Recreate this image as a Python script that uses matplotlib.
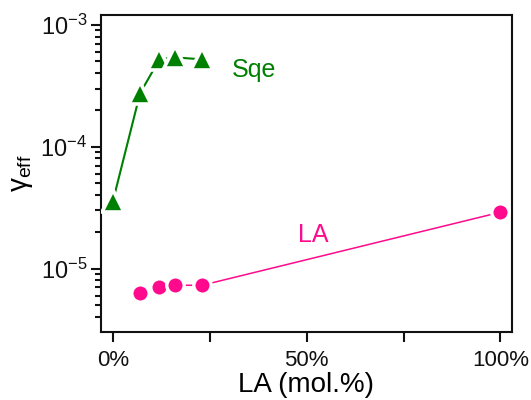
import matplotlib
matplotlib.use("Agg")
import matplotlib.pyplot as plt
from matplotlib.ticker import FixedLocator, NullFormatter

plt.rcParams['font.family'] = ['Liberation Sans', 'DejaVu Sans']
plt.rcParams['mathtext.fontset'] = 'custom'
plt.rcParams['mathtext.rm'] = 'Liberation Sans'
plt.rcParams['mathtext.it'] = 'Liberation Sans:italic'

sqe_x = [0, 7, 12, 16, 23]
sqe_y = [3.6e-5, 2.75e-4, 5.2e-4, 5.4e-4, 5.2e-4]
la_x = [7, 12, 16, 23, 100]
la_y = [6.3e-6, 7.0e-6, 7.3e-6, 7.3e-6, 2.9e-5]
xticks = [0, 50, 100]
xtick_labels = ['0%', '50%', '100%']
yticks = [1e-5, 1e-4, 1e-3]
ytick_labels = [r'10$^{-5}$', r'10$^{-4}$', r'10$^{-3}$']

green = '#008000'
pink = '#ff0a8c'

fig = plt.figure(figsize=(5.31, 4.0), dpi=100)
ax = fig.add_axes([101/531, 1-332/400, (512-101)/531, (332-15)/400])

ax.plot(sqe_x, sqe_y, '-', color=green, lw=1.5, zorder=2)
ax.plot(sqe_x, sqe_y, '^', color=green, ms=15.5, mfc=green, mec='white', mew=2.6, zorder=3)
ax.plot(la_x, la_y, '-', color=pink, lw=1.1, zorder=2)
ax.plot(la_x, la_y, 'o', color=pink, ms=12.5, mfc=pink, mec='white', mew=2.4, zorder=3)

ax.set_yscale('log')
ax.set_ylim(10**-5.52, 10**-2.92)
ax.set_xlim(-3.1, 103)

ax.set_xticks(xticks)
ax.set_xticklabels(xtick_labels)
ax.xaxis.set_minor_locator(FixedLocator([25, 75]))
ax.set_yticks(yticks)
ax.set_yticklabels(ytick_labels)
minor_y = [m * 10.0**e for e in (-6, -5, -4) for m in range(2, 10)]
ax.yaxis.set_minor_locator(FixedLocator(minor_y))
ax.yaxis.set_minor_formatter(NullFormatter())

ax.tick_params(axis='both', which='major', direction='out', length=7, width=1.5, colors='#111111')
ax.tick_params(axis='x', which='major', labelsize=16, pad=6)
ax.tick_params(axis='y', which='major', labelsize=17, pad=3)
ax.tick_params(axis='x', which='minor', direction='out', length=7, width=1.5, colors='#111111')
ax.tick_params(axis='y', which='minor', direction='out', length=4, width=1.5, colors='#111111')
for s in ax.spines.values():
    s.set_linewidth(1.5)
    s.set_color('#111111')

ax.set_xlabel('LA (mol.%)', fontsize=20, labelpad=1)
ax.set_ylabel('γ$_{\\mathrm{eff}}$', fontsize=20, labelpad=4)

ax.text(30.7, 3.75e-4, 'Sqe', color=green, fontsize=18)
ax.text(47.7, 1.66e-5, 'LA', color=pink, fontsize=18)

fig.savefig('out.png', dpi=100, facecolor='white')
